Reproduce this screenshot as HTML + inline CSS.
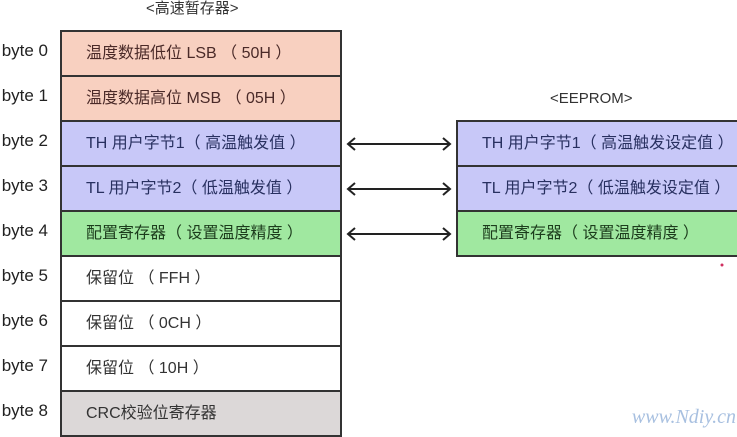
<!DOCTYPE html>
<html><head><meta charset="utf-8"><style>
body{margin:0;width:737px;height:436px;overflow:hidden;background:#fff;font-family:"Liberation Sans","Noto Sans CJK SC",sans-serif;position:relative}
.r{position:absolute;box-sizing:border-box;border:2px solid #333;height:47px;font-size:16px;line-height:43px;padding-left:24px;color:#333}
.b{position:absolute;left:-10px;font-size:17px;color:#222;width:58px;text-align:right}
.t{position:absolute;font-size:15px;color:#333}
.p{background:#f8d0c0;color:#4a2a28}.u{background:#c8c8f8;color:#283060}.g{background:#a0e8a0;color:#1c3c1c}.w{background:#fff}.x{background:#dcd8d8}
</style></head><body>
<div class="t" style="left:146px;top:-3px">&lt;高速暂存器&gt;</div>
<div class="t" style="left:550px;top:90px">&lt;EEPROM&gt;</div>
<div class="r p" style="left:60px;top:30px;width:282px">温度数据低位 LSB （ 50H ）</div>
<div class="r p" style="left:60px;top:75px;width:282px">温度数据高位 MSB （ 05H ）</div>
<div class="r u" style="left:60px;top:120px;width:282px">TH 用户字节1（ 高温触发值 ）</div>
<div class="r u" style="left:60px;top:165px;width:282px">TL 用户字节2（ 低温触发值 ）</div>
<div class="r g" style="left:60px;top:210px;width:282px">配置寄存器（ 设置温度精度 ）</div>
<div class="r w" style="left:60px;top:255px;width:282px">保留位 （ FFH ）</div>
<div class="r w" style="left:60px;top:300px;width:282px">保留位 （ 0CH ）</div>
<div class="r w" style="left:60px;top:345px;width:282px">保留位 （ 10H ）</div>
<div class="r x" style="left:60px;top:390px;width:282px">CRC校验位寄存器</div>
<div class="b" style="top:41px">byte 0</div><div class="b" style="top:86px">byte 1</div><div class="b" style="top:131px">byte 2</div><div class="b" style="top:176px">byte 3</div><div class="b" style="top:221px">byte 4</div><div class="b" style="top:266px">byte 5</div><div class="b" style="top:311px">byte 6</div><div class="b" style="top:356px">byte 7</div><div class="b" style="top:401px">byte 8</div>
<div class="r u" style="left:456px;top:120px;width:290px">TH 用户字节1（ 高温触发设定值 ）</div>
<div class="r u" style="left:456px;top:165px;width:290px">TL 用户字节2（ 低温触发设定值 ）</div>
<div class="r g" style="left:456px;top:210px;width:290px">配置寄存器（ 设置温度精度 ）</div>
<svg style="position:absolute;left:0;top:0" width="737" height="436">
<g stroke="#222" stroke-width="2" fill="none">
<path d="M348 144H450M355 138L348 144L355 150M443 138L450 144L443 150"/>
<path d="M348 189H450M355 183L348 189L355 195M443 183L450 189L443 195"/>
<path d="M348 234H450M355 228L348 234L355 240M443 228L450 234L443 240"/>
</g>
<circle cx="722" cy="265" r="1.5" fill="#d03060"/>
<text x="736" y="423" text-anchor="end" font-family="Liberation Serif" font-style="italic" font-size="20" fill="#a8c0e0">www.Ndiy.cn</text>
</svg>
</body></html>
